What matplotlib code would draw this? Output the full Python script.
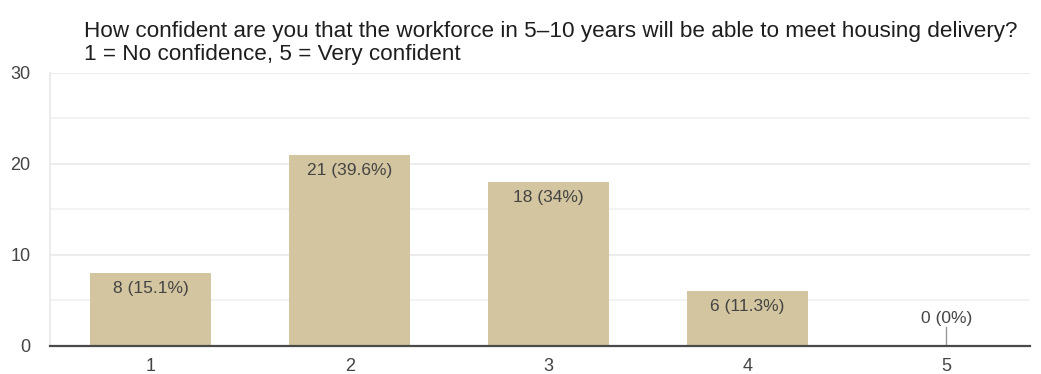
import matplotlib.pyplot as plt

plt.rcParams['font.family'] = ['Liberation Sans', 'DejaVu Sans']

# Respostas por nível de confiança
categorias = ["1", "2", "3", "4", "5"]
respostas = [8, 21, 18, 6, 0]
percentuais = ["15.1%", "39.6%", "34%", "11.3%", "0%"]

titulo = ("How confident are you that the workforce in 5\u201310 years will be able to meet housing delivery?\n"
          "1 = No confidence, 5 = Very confident")

fig = plt.figure(figsize=(10.41, 3.74), dpi=100)
ax = fig.add_axes([0.048, 0.075, 0.9414, 0.73])

x = list(range(len(categorias)))
ax.bar(x, respostas, width=0.61, color='#D3C59F', zorder=2)

# rótulos de valor dentro do topo de cada barra
for xi, v, p in zip(x, respostas, percentuais):
    texto = f"{v} ({p})"
    if v > 0:
        ax.annotate(texto, (xi, v), xytext=(0, -11), textcoords='offset points',
                    ha='center', va='center', fontsize=12.5, color='#444444', zorder=3)
    else:
        # barra vazia: rótulo acima com um pequeno traço
        ax.annotate(texto, (xi, v), xytext=(0, 20), textcoords='offset points',
                    ha='center', va='center', fontsize=12.5, color='#444444', zorder=3)
        ax.plot([xi, xi], [0, 2.1], color='#999999', linewidth=1, zorder=3)

ax.set_ylim(0, 30)
ax.set_xlim(-0.507, 4.42)
ax.set_yticks([0, 10, 20, 30])
ax.set_yticks([5, 15, 25], minor=True)
ax.set_xticks(x)
ax.set_xticklabels(categorias)

ax.grid(axis='y', which='major', color='#ebebeb', linewidth=1.3, zorder=0)
ax.grid(axis='y', which='minor', color='#f2f2f2', linewidth=1.3, zorder=0)

for lado in ['top', 'right']:
    ax.spines[lado].set_visible(False)
ax.spines['left'].set_color('#ebebeb')
ax.spines['left'].set_linewidth(1.3)
ax.spines['bottom'].set_color('#4a4a4a')
ax.spines['bottom'].set_linewidth(1.6)
ax.spines['bottom'].set_zorder(4)

ax.tick_params(axis='both', which='both', length=0, labelsize=13, colors='#444444')
ax.tick_params(axis='y', pad=14)
ax.tick_params(axis='x', pad=9)

fig.text(0.0807, 0.945, titulo, ha='left', va='top', fontsize=16.2,
         color='#1e1e1e', linespacing=1.13)

fig.savefig('out.png', dpi=100)
